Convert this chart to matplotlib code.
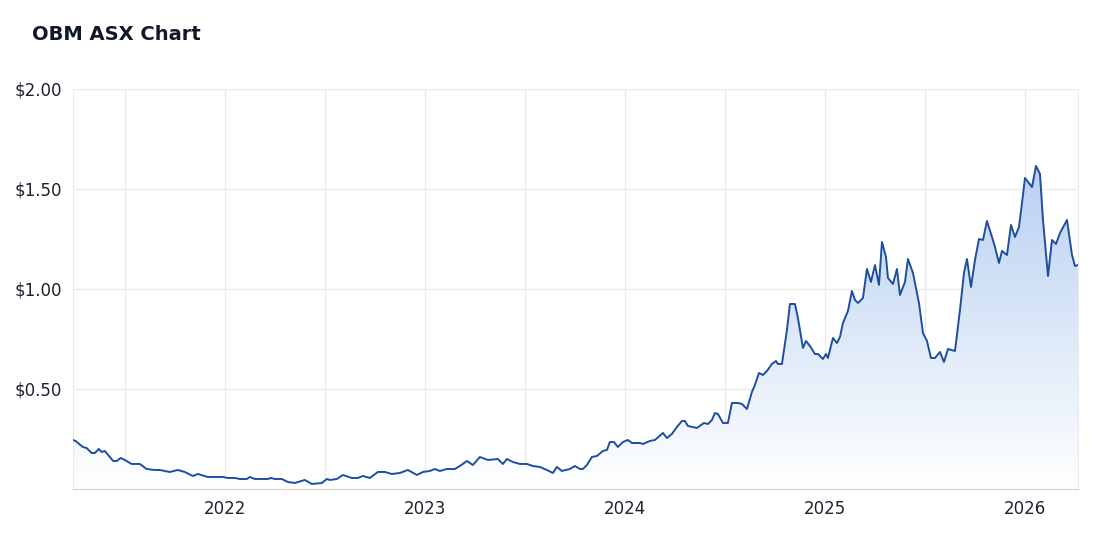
import numpy as np
import matplotlib
matplotlib.use("Agg")
import matplotlib.pyplot as plt
from matplotlib.colors import LinearSegmentedColormap

# decimal years and closing prices
years = [
    2021.240, 2021.254, 2021.290, 2021.309, 2021.334, 2021.350, 2021.370, 2021.384, 2021.400, 2021.442,
    2021.459, 2021.480, 2021.500, 2021.534, 2021.575, 2021.609, 2021.650, 2021.675, 2021.725, 2021.765,
    2021.800, 2021.840, 2021.865, 2021.915, 2021.990, 2022.015, 2022.050, 2022.075, 2022.110, 2022.125,
    2022.150, 2022.215, 2022.230, 2022.250, 2022.285, 2022.315, 2022.350, 2022.400, 2022.435, 2022.485,
    2022.510, 2022.525, 2022.560, 2022.590, 2022.635, 2022.665, 2022.690, 2022.725, 2022.765, 2022.800,
    2022.835, 2022.875, 2022.915, 2022.960, 2022.990, 2023.025, 2023.050, 2023.075, 2023.110, 2023.150,
    2023.175, 2023.210, 2023.240, 2023.275, 2023.315, 2023.365, 2023.390, 2023.410, 2023.440, 2023.475,
    2023.510, 2023.540, 2023.575, 2023.610, 2023.640, 2023.660, 2023.685, 2023.725, 2023.750, 2023.775,
    2023.790, 2023.810, 2023.835, 2023.860, 2023.890, 2023.910, 2023.925, 2023.945, 2023.965, 2023.990,
    2024.015, 2024.035, 2024.075, 2024.090, 2024.125, 2024.150, 2024.190, 2024.210, 2024.235, 2024.260,
    2024.285, 2024.300, 2024.315, 2024.360, 2024.395, 2024.415, 2024.435, 2024.450, 2024.465, 2024.490,
    2024.515, 2024.535, 2024.565, 2024.585, 2024.610, 2024.635, 2024.650, 2024.670, 2024.690, 2024.710,
    2024.735, 2024.755, 2024.765, 2024.785, 2024.810, 2024.825, 2024.850, 2024.865, 2024.890, 2024.905,
    2024.925, 2024.950, 2024.965, 2024.990, 2025.005, 2025.015, 2025.040, 2025.060, 2025.075, 2025.090,
    2025.115, 2025.135, 2025.150, 2025.165, 2025.190, 2025.210, 2025.230, 2025.250, 2025.270, 2025.285,
    2025.305, 2025.315, 2025.340, 2025.360, 2025.375, 2025.400, 2025.415, 2025.440, 2025.470, 2025.490,
    2025.510, 2025.530, 2025.550, 2025.575, 2025.595, 2025.615, 2025.650, 2025.675, 2025.695, 2025.710,
    2025.730, 2025.750, 2025.770, 2025.790, 2025.810, 2025.835, 2025.850, 2025.870, 2025.885, 2025.910,
    2025.930, 2025.950, 2025.970, 2025.985, 2026.000, 2026.035, 2026.055, 2026.075, 2026.090, 2026.115,
    2026.135, 2026.155, 2026.175, 2026.210, 2026.235, 2026.250, 2026.265,
]
prices = [
    0.245, 0.240, 0.210, 0.205, 0.180, 0.180, 0.200, 0.185, 0.190, 0.140,
    0.140, 0.155, 0.145, 0.125, 0.125, 0.100, 0.095, 0.095, 0.085, 0.095,
    0.085, 0.065, 0.075, 0.060, 0.060, 0.055, 0.055, 0.050, 0.050, 0.060,
    0.050, 0.050, 0.055, 0.050, 0.050, 0.035, 0.030, 0.045, 0.025, 0.030,
    0.050, 0.045, 0.050, 0.070, 0.055, 0.055, 0.065, 0.055, 0.085, 0.085,
    0.075, 0.080, 0.095, 0.070, 0.085, 0.090, 0.100, 0.090, 0.100, 0.100,
    0.115, 0.140, 0.120, 0.160, 0.145, 0.150, 0.125, 0.150, 0.135, 0.125,
    0.125, 0.115, 0.110, 0.095, 0.080, 0.110, 0.090, 0.100, 0.115, 0.100,
    0.100, 0.120, 0.160, 0.165, 0.190, 0.195, 0.235, 0.235, 0.210, 0.235,
    0.245, 0.230, 0.230, 0.225, 0.240, 0.245, 0.280, 0.255, 0.275, 0.310,
    0.340, 0.340, 0.315, 0.305, 0.330, 0.325, 0.345, 0.380, 0.375, 0.330,
    0.330, 0.430, 0.430, 0.425, 0.400, 0.485, 0.520, 0.580, 0.570, 0.590,
    0.625, 0.640, 0.625, 0.625, 0.795, 0.925, 0.925, 0.855, 0.705, 0.740,
    0.715, 0.675, 0.675, 0.650, 0.675, 0.655, 0.755, 0.730, 0.760, 0.830,
    0.890, 0.990, 0.945, 0.930, 0.955, 1.100, 1.035, 1.120, 1.020, 1.235,
    1.160, 1.055, 1.025, 1.100, 0.970, 1.035, 1.150, 1.080, 0.930, 0.780,
    0.740, 0.655, 0.655, 0.685, 0.635, 0.700, 0.690, 0.895, 1.080, 1.150,
    1.010, 1.145, 1.250, 1.245, 1.340, 1.260, 1.210, 1.130, 1.190, 1.170,
    1.320, 1.260, 1.310, 1.430, 1.555, 1.510, 1.615, 1.575, 1.345, 1.065,
    1.245, 1.225, 1.280, 1.345, 1.170, 1.115, 1.120,
]
year_ticks = [2022, 2023, 2024, 2025, 2026]
half_year_lines = [2021.5, 2022.5, 2023.5, 2024.5, 2025.5]
price_ticks = [0.5, 1.0, 1.5, 2.0]

LINE = "#1f4e9f"
GRID = "#ebebeb"
TEXT = "#1c2230"

fig = plt.figure(figsize=(11.2, 5.39), dpi=100)
ax = fig.add_axes([0.065, 0.0928, 0.8975, 0.7421])
x0, x1 = years[0], years[-1]

# gradient fill under the line
cmap = LinearSegmentedColormap.from_list("g", ["#ffffff", "#dbe7f8", "#b7cff2"])
grad = np.linspace(0, 1, 256).reshape(-1, 1)
im = ax.imshow(grad, extent=[x0, x1, 0, 1.65], origin="lower", aspect="auto",
               cmap=cmap, vmin=0, vmax=1, zorder=1)
poly = ax.fill_between(years, prices, 0, color="none")
im.set_clip_path(poly.get_paths()[0], transform=ax.transData)
ax.plot(years, prices, color=LINE, lw=1.4, zorder=3)

ax.set_yticks(price_ticks)
ax.set_yticklabels([f"${v:.2f}" for v in price_ticks])
ax.set_xticks(year_ticks)
ax.set_xticklabels([str(y) for y in year_ticks])
ax.set_xticks(half_year_lines, minor=True)
ax.grid(True, which="both", color=GRID, lw=1, zorder=0)
ax.set_axisbelow(True)
ax.tick_params(which="both", length=0, labelsize=12, colors=TEXT, pad=8)
ax.set_xlim(x0, x1)
ax.set_ylim(0, 2.0)
ax.spines["top"].set_visible(False)
ax.spines["left"].set_color(GRID)
ax.spines["right"].set_color(GRID)
ax.spines["bottom"].set_color("#cfcfcf")

fig.text(0.029, 0.925, "OBM ASX Chart", fontsize=14, fontweight="bold", color="#111827")
fig.savefig("out.png", dpi=100)
